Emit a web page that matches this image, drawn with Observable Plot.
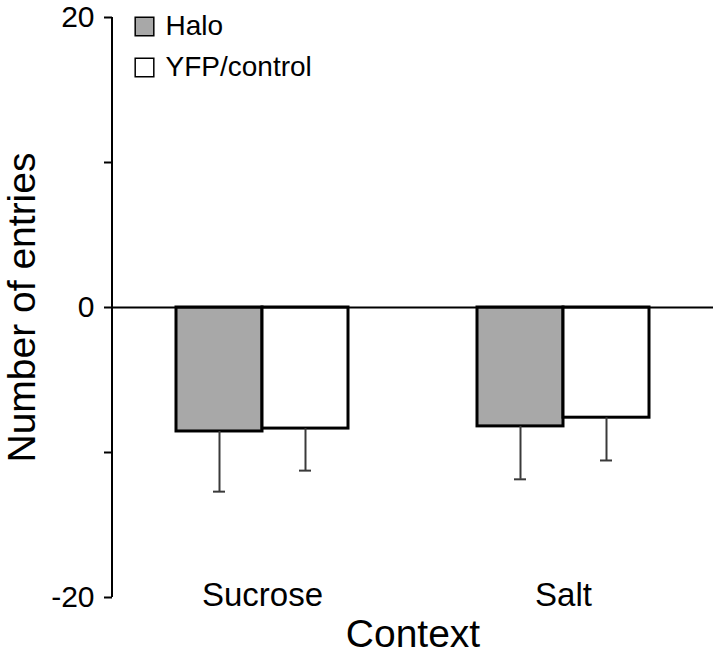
<!DOCTYPE html>
<html>
<head>
<meta charset="utf-8">
<script src="https://cdn.jsdelivr.net/npm/d3@7"></script>
<script src="https://cdn.jsdelivr.net/npm/@observablehq/plot@0.6"></script>
<style>
  html, body { margin: 0; padding: 0; background: #fff; }
  #chart { width: 720px; height: 654px; }
</style>
</head>
<body>
<div id="chart"></div>
<script>
const contexts = ["Sucrose", "Salt"];
const groups = ["Halo", "YFP/control"];
const haloMean = [-8.55, -8.2];
const haloErr = [4.15, 3.65];
const yfpMean = [-8.35, -7.6];
const yfpErr = [2.9, 2.95];
const yTicks = [-20, -10, 0, 10, 20];
const yLabels = [-20, 0, 20];
const fills = ["#a8a8a8", "#ffffff"];

const rows = contexts.flatMap((c, i) => [
  {context: c, group: groups[0], mean: haloMean[i], err: haloErr[i]},
  {context: c, group: groups[1], mean: yfpMean[i], err: yfpErr[i]}
]);
const halo = rows.filter(d => d.group === groups[0]);
const yfp = rows.filter(d => d.group === groups[1]);

const font = "'Liberation Sans', Arial, Helvetica, sans-serif";
const half = 86;   // half of band width (bar width)
const off = 43;    // bar center offset from band center
const cap = 6;     // half cap width

const plot = Plot.plot({
  width: 720,
  height: 654,
  marginLeft: 112,
  marginRight: 7,
  marginTop: 17,
  marginBottom: 57,
  style: {fontFamily: font, background: "#fff", color: "#000", overflow: "visible"},
  x: {domain: contexts, paddingInner: 0.4286, paddingOuter: 0.2125, axis: null},
  y: {domain: [-20, 20], axis: null},
  marks: [
    Plot.barY(halo, {x: "context", y: "mean", fill: fills[0], stroke: "#000", strokeWidth: 3, insetRight: half}),
    Plot.barY(yfp, {x: "context", y: "mean", fill: fills[1], stroke: "#000", strokeWidth: 3, insetLeft: half}),
    Plot.ruleX(halo, {x: "context", y1: "mean", y2: d => d.mean - d.err, dx: -off, stroke: "#3a3a3a", strokeWidth: 2}),
    Plot.ruleX(yfp, {x: "context", y1: "mean", y2: d => d.mean - d.err, dx: off, stroke: "#3a3a3a", strokeWidth: 2}),
    Plot.tickY(halo, {x: "context", y: d => d.mean - d.err, insetLeft: half - off - cap, insetRight: half + off - cap, stroke: "#3a3a3a", strokeWidth: 2}),
    Plot.tickY(yfp, {x: "context", y: d => d.mean - d.err, insetLeft: half + off - cap, insetRight: half - off - cap, stroke: "#3a3a3a", strokeWidth: 2}),
    Plot.ruleY([0], {stroke: "#000", strokeWidth: 2}),
    Plot.axisY({ticks: yTicks, tickFormat: d => yLabels.includes(d) ? String(d) : "", tickSize: 8, tickPadding: 10, fontSize: 30, strokeWidth: 2, label: null}),
    Plot.axisX({tickSize: 0, tickPadding: -15, fontSize: 33, label: null}),
    Plot.text(["Context"], {frameAnchor: "bottom", dy: 49, fontSize: 39, lineAnchor: "bottom", textAnchor: "middle", fill: "#000"}),
    Plot.text(["Number of entries"], {frameAnchor: "left", dx: -105, rotate: -90, fontSize: 39, lineAnchor: "top", textAnchor: "middle", fill: "#000"}),
    ...groups.map((g, i) => Plot.dot([g], {frameAnchor: "top-left", dx: 32, dy: 9 + 41 * i, symbol: "square", r: 10.5, fill: fills[i], stroke: "#000", strokeWidth: 1.5})),
    ...groups.map((g, i) => Plot.text([g], {frameAnchor: "top-left", dx: 53, dy: 9 + 41 * i, text: d => d, textAnchor: "start", lineAnchor: "middle", fontSize: 28, fill: "#000"}))
  ]
});

const ys = plot.scale("y");
d3.select(plot).append("line")
  .attr("x1", 112).attr("x2", 112)
  .attr("y1", ys.apply(-20)).attr("y2", ys.apply(20))
  .attr("stroke", "#000").attr("stroke-width", 2);

document.getElementById("chart").appendChild(plot);
</script>
</body>
</html>
